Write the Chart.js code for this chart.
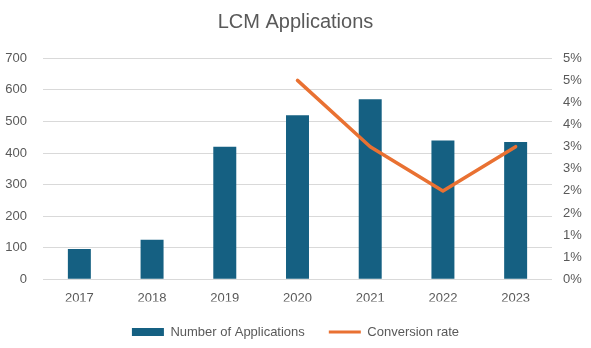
<!DOCTYPE html>
<html>
<head>
<meta charset="utf-8">
<script src="https://cdn.jsdelivr.net/npm/chart.js@4"></script>
<style>
html,body{margin:0;padding:0;background:#fff;}
canvas{display:block;}
</style>
</head>
<body>
<canvas id="c" width="591" height="348"></canvas>
<script>
const categories = ["2017","2018","2019","2020","2021","2022","2023"];
const applications = [96, 125, 420, 520, 570, 440, 435];
const conversionRate = [null, null, null, 4.5, 3.0, 2.0, 3.0]; // percent
const leftTicks = {min: 0, max: 700, step: 100};
const rightTicks = {min: 0, max: 5, step: 0.5};

const FONT = "'Liberation Sans', Arial, sans-serif";
const TXT = "#595959";
const BLUE = "#156082";
const ORANGE = "#E97132";

const legendHeightPlugin = {
  id: 'legendHeight',
  beforeUpdate(chart) {
    const lg = chart.legend;
    if (lg && !lg._patched) {
      const orig = lg.fit.bind(lg);
      lg.fit = function() { orig(); this.height = 46.5; };
      lg._patched = true;
    }
  }
};

new Chart(document.getElementById('c'), {
  data: {
    labels: categories,
    datasets: [
      {
        type: 'line',
        label: 'Conversion rate',
        data: conversionRate,
        yAxisID: 'y1',
        borderColor: ORANGE,
        backgroundColor: ORANGE,
        borderWidth: 3.5,
        pointRadius: 0,
        tension: 0,
        borderJoinStyle: 'round',
        borderCapStyle: 'round',
        order: 0
      },
      {
        type: 'bar',
        label: 'Number of Applications',
        data: applications,
        yAxisID: 'y',
        backgroundColor: BLUE,
        categoryPercentage: 1,
        barPercentage: 0.316,
        order: 1
      }
    ]
  },
  plugins: [legendHeightPlugin],
  options: {
    responsive: false,
    animation: false,
    layout: {padding: 0},
    plugins: {
      title: {
        display: true,
        text: 'LCM Applications',
        color: TXT,
        font: {family: FONT, size: 20, weight: 'normal', lineHeight: 1.2},
        padding: {top: 10, bottom: 24.3}
      },
      legend: {
        position: 'bottom',
        labels: {
          color: TXT,
          font: {family: FONT, size: 13},
          usePointStyle: true,
          pointStyleWidth: 32,
          boxHeight: 8,
          padding: 24,
          generateLabels: function(chart) {
            return [
              {text: 'Number of Applications', fillStyle: BLUE, strokeStyle: BLUE, lineWidth: 0, pointStyle: 'rect', datasetIndex: 1, fontColor: TXT},
              {text: 'Conversion rate', fillStyle: ORANGE, strokeStyle: ORANGE, lineWidth: 3, pointStyle: 'line', datasetIndex: 0, fontColor: TXT}
            ];
          }
        }
      },
      tooltip: {enabled: false}
    },
    scales: {
      x: {
        grid: {display: false, drawTicks: false},
        border: {display: false},
        ticks: {color: TXT, font: {family: FONT, size: 13}, padding: 11, maxRotation: 0},
        afterFit: function(s) { s.height = 22.2; }
      },
      y: {
        position: 'left',
        min: leftTicks.min, max: leftTicks.max,
        grid: {color: '#d9d9d9', lineWidth: 1, drawTicks: false},
        border: {display: false},
        ticks: {stepSize: leftTicks.step, color: TXT, font: {family: FONT, size: 13}, padding: 16},
        afterFit: function(s) { s.width = 43; }
      },
      y1: {
        position: 'right',
        min: rightTicks.min, max: rightTicks.max,
        grid: {display: false, drawTicks: false},
        border: {display: false},
        ticks: {
          stepSize: rightTicks.step, color: TXT, font: {family: FONT, size: 13}, padding: 11,
          callback: function(v) { return Math.round(Math.round(v * 100) / 100) + '%'; }
        },
        afterFit: function(s) { s.width = 39; }
      }
    }
  }
});
</script>
</body>
</html>
